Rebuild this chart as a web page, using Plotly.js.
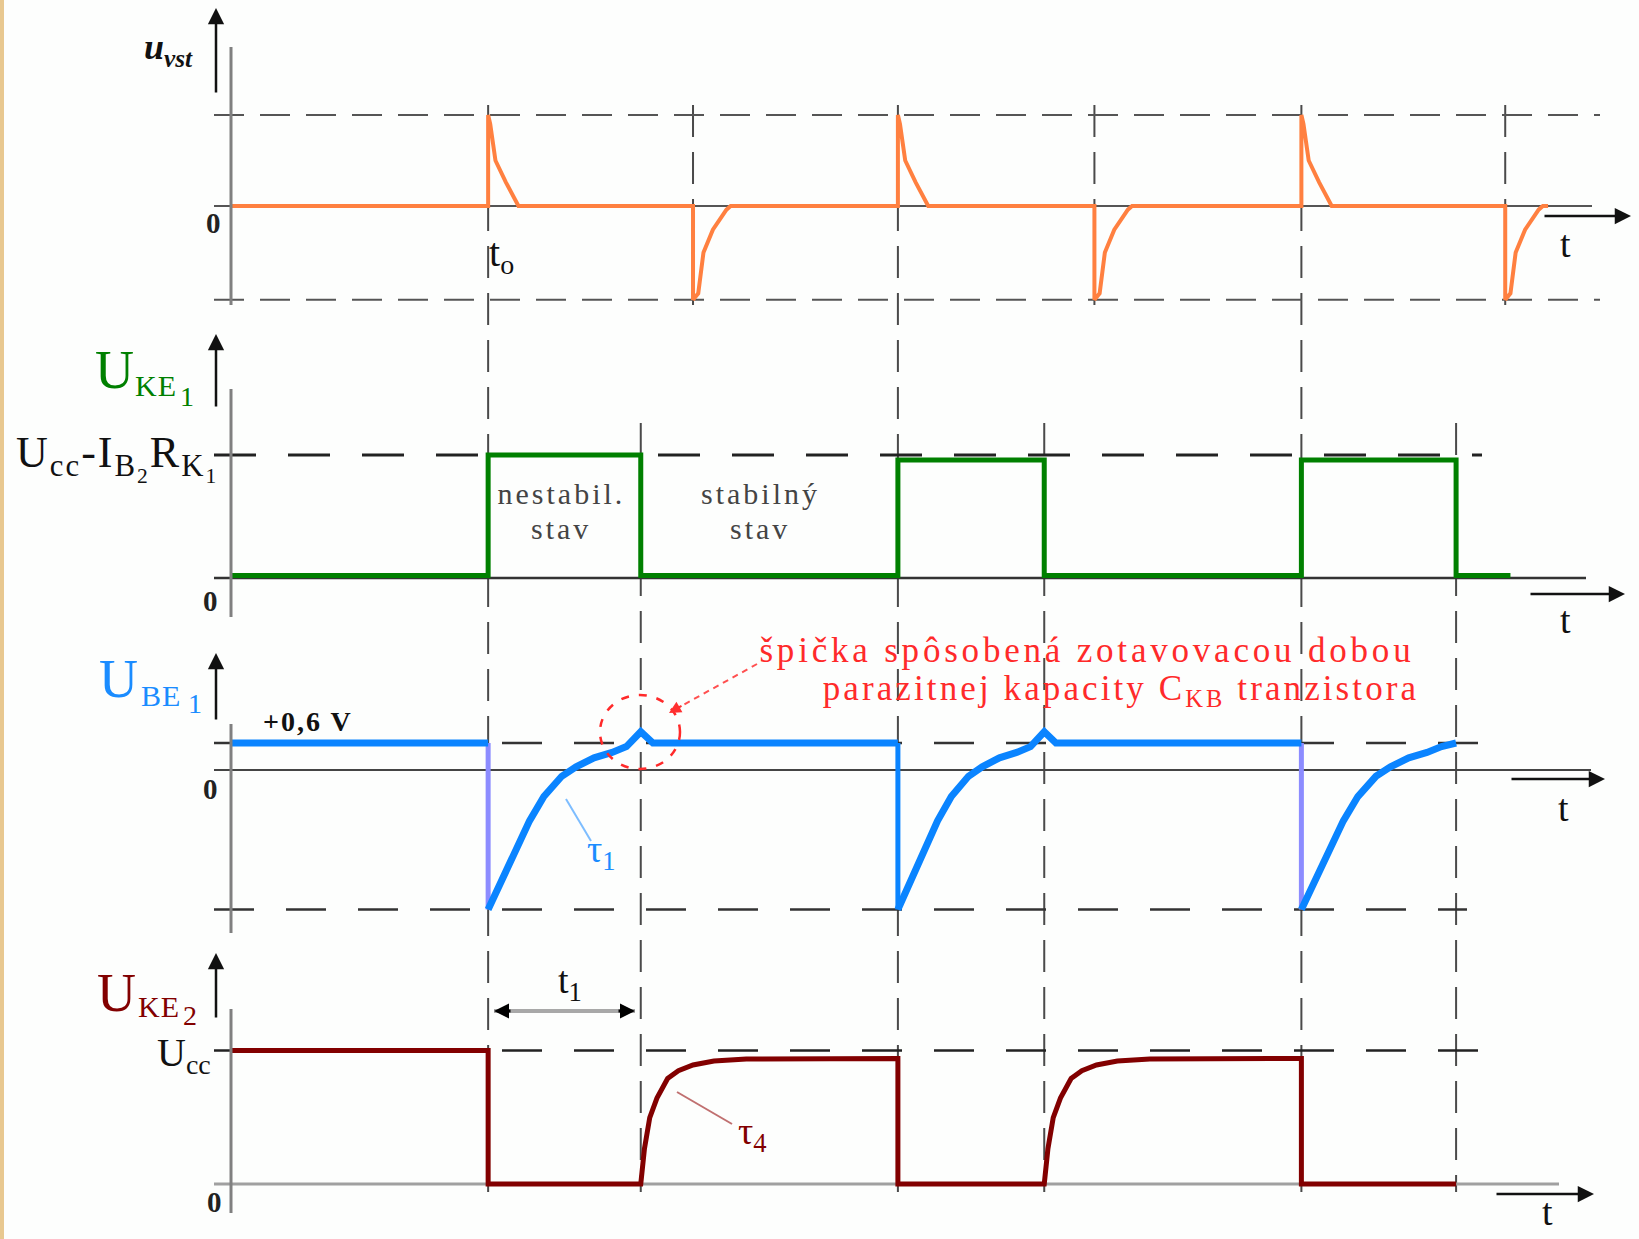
<!DOCTYPE html>
<html><head><meta charset="utf-8">
<script src="https://cdn.plot.ly/plotly-3.0.1.min.js"></script>
<style>
html,body{margin:0;padding:0;background:#fdfefd;}
#chart{width:1639px;height:1239px;}
</style>
</head><body><div id="chart"></div>
<script>
// ================= DATA (time in arbitrary units, t = 0 at the vertical axes) =================
const triggerPos  = [2.46, 6.38, 10.24];   // positive input spikes -> start of unstable state
const triggerNeg  = [4.42, 8.26, 12.19];   // negative input spikes
const unstableEnd = [3.92, 7.78, 11.72];   // end of unstable state (t1 later)

// input voltage u_vst spikes (offset from trigger, relative amplitude)
const spikePosDt = [0, 0, 0.02, 0.07, 0.17, 0.29];
const spikePosV  = [0, 1, 0.9, 0.5, 0.26, 0];
const spikeNegDt = [0, 0, 0.05, 0.10, 0.19, 0.32, 0.36];
const spikeNegV  = [0, -1.03, -0.96, -0.51, -0.26, -0.04, 0];
const uvstEnd = 12.6;

// U_KE1 (relative to Ucc - IB2*RK1)
const uke1High = [1, 0.96, 0.96];
const uke1Low  = 0.02;
const uke1End  = 12.24;

// U_BE1 (volts)
const ube1High = 0.6;
const ube1Low  = -3.1;
const ube1RiseFrac = [0, 0.106, 0.188, 0.271, 0.365, 0.482, 0.576, 0.694, 0.812, 0.906];
const ube1RiseV    = [-3.1, -2.36, -1.70, -1.13, -0.59, -0.14, 0.07, 0.27, 0.39, 0.52];
const ube1SpikeFrac = [1.0, 1.08];
const ube1SpikeV    = [0.85, 0.6];
const ube1HasSpike  = [true, true, false];

// U_KE2 (relative to Ucc)
const uke2High  = [1, 0.94, 0.94];
const uke2RecDt = [0, 0.035, 0.086, 0.155, 0.257, 0.36, 0.5, 0.70, 1.01];
const uke2RecV  = [0, 0.263, 0.497, 0.643, 0.79, 0.848, 0.892, 0.921, 0.936];

// ================= BUILD TRACES =================
const vx = [0], vy = [0];
const events = [];
triggerPos.forEach(t => events.push([t, spikePosDt, spikePosV]));
triggerNeg.forEach(t => events.push([t, spikeNegDt, spikeNegV]));
events.sort((a,b)=>a[0]-b[0]);
events.forEach(([t, dts, vs]) => { dts.forEach((d,i)=>{ vx.push(t+d); vy.push(vs[i]); }); });
vx.push(uvstEnd); vy.push(0);

const gx = [0], gy = [uke1Low];
triggerPos.forEach((t,i)=>{
  gx.push(t, t, unstableEnd[i], unstableEnd[i]);
  gy.push(uke1Low, uke1High[i], uke1High[i], uke1Low);
});
gx.push(uke1End); gy.push(uke1Low);

const bx = [0, triggerPos[0]], by = [ube1High, ube1High];
const dropX = [], dropY = [];
triggerPos.forEach((t,i)=>{
  const d = unstableEnd[i]-t;
  if (i>0) { bx.push(t); by.push(ube1High); }
  bx.push(null); by.push(null);
  dropX.push([t,t]); dropY.push([ube1High, ube1Low]);
  ube1RiseFrac.forEach((f,k)=>{ bx.push(t+f*d); by.push(ube1RiseV[k]); });
  if (ube1HasSpike[i]) {
    ube1SpikeFrac.forEach((f,k)=>{ bx.push(t+f*d); by.push(ube1SpikeV[k]); });
  } else { bx.push(unstableEnd[i]); by.push(ube1High); }
});

const rx = [0], ry = [uke2High[0]];
triggerPos.forEach((t,i)=>{
  rx.push(t, t, unstableEnd[i]); ry.push(uke2High[i], 0, 0);
  if (i < triggerPos.length-1) {
    uke2RecDt.forEach((d,k)=>{ rx.push(unstableEnd[i]+d); ry.push(uke2RecV[k]); });
    rx.push(triggerPos[i+1]); ry.push(uke2High[i+1]);
  }
});

// ================= GEOMETRY HELPERS (page pixels) =================
const W = 1639, H = 1239;
const X0 = 231, PXU = 104.53;
const T = px => (px - X0)/PXU;
const PX = px => px/W, PY = py => 1 - py/H;
function yr(zeroPx, unitPx){ return [-(H-zeroPx)/unitPx, zeroPx/unitPx]; }
const ax1 = yr(206, 91), ax2 = yr(578, 123), ax3 = yr(770, 45), ax4 = yr(1184, 133.5);

const ORANGE='#ff8040', GREEN='#008000', BLUE='#0a84ff', PURPLE='#8c8cff', DRED='#820000';
const LBLUE='#1a8cff';
const SERIF = 'Liberation Serif, Times New Roman, serif';

const traces = [
  {x:vx, y:vy, yaxis:'y', mode:'lines', line:{color:ORANGE, width:4}, hoverinfo:'skip'},
  {x:gx, y:gy, yaxis:'y2', mode:'lines', line:{color:GREEN, width:5}, hoverinfo:'skip'},
  {x:dropX[0], y:dropY[0], yaxis:'y3', mode:'lines', line:{color:PURPLE, width:5}, hoverinfo:'skip'},
  {x:dropX[1], y:dropY[1], yaxis:'y3', mode:'lines', line:{color:BLUE, width:5}, hoverinfo:'skip'},
  {x:dropX[2], y:dropY[2], yaxis:'y3', mode:'lines', line:{color:PURPLE, width:5}, hoverinfo:'skip'},
  {x:bx, y:by, yaxis:'y3', mode:'lines', line:{color:BLUE, width:7}, hoverinfo:'skip', connectgaps:false},
  {x:rx, y:ry, yaxis:'y4', mode:'lines', line:{color:DRED, width:5}, hoverinfo:'skip'}
];

const shapes = [];
shapes.push({type:'rect', xref:'paper', yref:'paper', x0:0, x1:PX(4), y0:0, y1:1, line:{width:0}, fillcolor:'#e8c890', layer:'below'});
function hline(yref, y, px0, px1, color, width, dash){
  shapes.push({type:'line', xref:'x', yref:yref, x0:T(px0), x1:T(px1), y0:y, y1:y, line:{color, width, dash}, layer:'below'});
}
function vline(t, py0, py1){
  shapes.push({type:'line', xref:'x', yref:'paper', x0:t, x1:t, y0:PY(py0), y1:PY(py1), line:{color:'#4a4a4a', width:2, dash:'32px,15px'}, layer:'below'});
}
function pline(px0,py0,px1,py1,color,width,dash){
  shapes.push({type:'line', xref:'paper', yref:'paper', x0:PX(px0), x1:PX(px1), y0:PY(py0), y1:PY(py1), line:{color, width, dash:dash||'solid'}});
}
hline('y', 1, 214, 1600, '#555', 2, '30px,16px');
hline('y', spikeNegV[1], 214, 1600, '#555', 2, '30px,16px');
hline('y', 0, 214, 1592, '#555', 2, 'solid');
hline('y2', uke1High[0], 214, 1482, '#222', 3, '42px,32px');
hline('y2', 0, 214, 1586, '#333', 2.5, 'solid');
hline('y3', ube1High, 214, 1487, '#333', 2.5, '40px,32px');
hline('y3', ube1Low, 214, 1467, '#333', 2.5, '40px,32px');
hline('y3', 0, 214, 1591, '#444', 2, 'solid');
hline('y4', uke2High[0], 214, 1482, '#222', 2.5, '40px,32px');
hline('y4', 0, 214, 1559, '#a0a0a0', 3, 'solid');
triggerPos.forEach(t => vline(t, 105, 1192));
triggerNeg.forEach(t => vline(t, 105, 305));
unstableEnd.forEach(t => vline(t, 423, 1192));
[[47,305],[389,617],[724,933],[1009,1213]].forEach(([a,b]) => pline(231,a,231,b,'#808080',3));
pline(494, 1011, 635, 1011, '#a8a8a8', 4);
pline(566, 799, 591, 841, '#7dbdff', 2);
pline(677, 1092, 732, 1124, '#c07070', 2);
shapes.push({type:'circle', xref:'paper', yref:'paper', x0:PX(600), x1:PX(680), y0:PY(695), y1:PY(769), line:{color:'#ff2a2a', width:2.5, dash:'8px,10px'}});
pline(757, 664, 676, 709, '#ff5050', 2, '6px,5px');

const ann = [], spacing = [];
function txt(px, py, text, size, color, ls){
  spacing.push(ls||0);
  ann.push({xref:'paper', yref:'paper', x:PX(px), y:PY(py), text, showarrow:false,
    xanchor:'center', yanchor:'middle', font:{family:SERIF, size, color}});
}
function arrow(tipx, tipy, dx, dy, color, w, size){
  spacing.push(0);
  ann.push({xref:'paper', yref:'paper', x:PX(tipx), y:PY(tipy), ax:dx, ay:dy, text:'', showarrow:true,
    arrowhead:2, arrowsize:size||1.3, arrowwidth:w||2.5, arrowcolor:color||'#111'});
}
arrow(216, 8, 0, 86); arrow(216, 334, 0, 74); arrow(216, 653, 0, 68); arrow(216, 953, 0, 66);
arrow(1631, 216, -88, 0); arrow(1625, 594, -96, 0); arrow(1605, 779, -95, 0); arrow(1594, 1194, -99, 0);
arrow(494, 1011, 18, 0, '#000', 3, 1); arrow(635, 1011, -18, 0, '#000', 3, 1);
arrow(669, 713, 14, -8, '#ff3030', 2, 1.2);

txt(168, 50, '<b><i>u</i></b><sub><b><i>vst</i></b></sub>', 36, '#111');
txt(213, 223, '<b>0</b>', 29, '#222');
txt(210, 601, '<b>0</b>', 29, '#222');
txt(211, 789, '<b>0</b>', 29, '#222');
txt(214, 1202, '<b>0</b>', 29, '#222');
txt(501, 255, 't<sub>o</sub>', 40, '#111');
[[1565,244],[1565,620],[1563,808],[1547,1212]].forEach(p => txt(p[0],p[1],'t',38,'#111'));
// U_KE1
txt(114, 370, 'U', 54, GREEN); txt(156, 386, 'KE', 30, GREEN, 1); txt(187, 396, '1', 28, GREEN);
txt(117, 458, 'U<sub>cc</sub>-I<sub>B<sub>2</sub></sub>R<sub>K<sub>1</sub></sub>', 44, '#111', 2);
txt(561, 494, 'nestabil.', 30, '#444', 3);  txt(561, 528, 'stav', 30, '#444', 3);
txt(760, 494, 'stabilný', 30, '#444', 3);   txt(760, 528, 'stav', 30, '#444', 3);
// U_BE1
txt(118, 679, 'U', 54, LBLUE); txt(161, 695, 'BE', 30, LBLUE, 1); txt(195, 703, '1', 28, LBLUE);
txt(308, 721, '<b>+0,6 V</b>', 28, '#111', 2);
txt(1087, 650, 'špička spôsobená zotavovacou dobou', 35, '#ff2a2a', 3.8);
txt(1121, 690, 'parazitnej kapacity C<sub>KB</sub> tranzistora', 35, '#ff2a2a', 3.1);
txt(601, 852, 'τ<sub>1</sub>', 38, LBLUE);
txt(570, 983, 't<sub>1</sub>', 38, '#111');
// U_KE2
txt(116, 993, 'U', 54, DRED); txt(159, 1006, 'KE', 30, DRED, 1); txt(190, 1015, '2', 28, DRED);
txt(184, 1055, 'U<sub>cc</sub>', 40, '#111');
txt(752, 1134, 'τ<sub>4</sub>', 38, DRED);

const hidden = {visible:false, fixedrange:true};
const layout = {
  width:W, height:H, margin:{l:0,r:0,t:0,b:0,pad:0},
  paper_bgcolor:'#fdfefd', plot_bgcolor:'#fdfefd', showlegend:false,
  xaxis:Object.assign({range:[T(0), T(W)], domain:[0,1]}, hidden),
  yaxis:Object.assign({range:ax1, domain:[0,1]}, hidden),
  yaxis2:Object.assign({range:ax2, overlaying:'y'}, hidden),
  yaxis3:Object.assign({range:ax3, overlaying:'y'}, hidden),
  yaxis4:Object.assign({range:ax4, overlaying:'y'}, hidden),
  shapes, annotations:ann
};
Plotly.newPlot('chart', traces, layout, {staticPlot:true, displayModeBar:false}).then(gd => {
  gd.querySelectorAll('.annotation').forEach(g => {
    const i = +g.getAttribute('data-index');
    const t = g.querySelector('text');
    if (t && spacing[i]) t.style.letterSpacing = spacing[i] + 'px';
  });
});
</script></body></html>
